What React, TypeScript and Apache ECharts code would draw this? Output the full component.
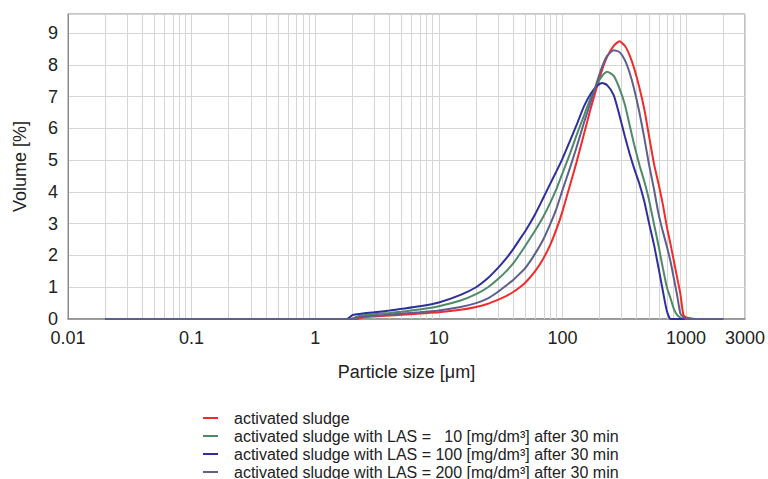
import React, { useEffect, useRef } from "react";
import * as echarts from "echarts";

// Particle sizes [µm] shared by all series
const sizes = [
  0.02, 1.8, 2, 2.2, 2.5, 3, 4, 5, 7, 10,
  15, 20, 25, 30, 35, 40, 45, 50,
  60, 70, 80, 90, 100,
  115, 130, 150, 170, 190, 210, 230, 260, 290,
  320, 350, 380, 420, 460, 500,
  550, 600, 650, 700,
  750, 800, 850, 900, 950, 1000, 1100, 1200, 2000,
];

// Volume [%]
const sludge = [
  0, 0, 0, 0, 0.06, 0.08, 0.11, 0.13, 0.17, 0.21,
  0.29, 0.38, 0.48, 0.6, 0.72, 0.85, 0.99, 1.14,
  1.5, 1.9, 2.35, 2.85, 3.38,
  4.2, 4.93, 5.85, 6.65, 7.3, 7.85, 8.25, 8.6, 8.74,
  8.6, 8.3, 7.9, 7.28, 6.6, 5.8,
  4.9, 4.25, 3.6, 2.9,
  2.35, 1.8, 1.28, 0.8, 0.15, 0.05, 0.02, 0, 0,
];
const las10 = [
  0, 0, 0.02, 0.08, 0.12, 0.15, 0.19, 0.23, 0.3, 0.4,
  0.58, 0.78, 1.0, 1.25, 1.5, 1.75, 2.03, 2.3,
  2.78, 3.22, 3.67, 4.12, 4.58,
  5.2, 5.78, 6.42, 6.98, 7.38, 7.65, 7.78, 7.65, 7.25,
  6.75, 6.1, 5.5, 4.85, 4.33, 3.78,
  3.0, 2.3, 1.6, 1.0,
  0.65, 0.3, 0.12, 0.04, 0, 0, 0, 0, 0,
];
const las100 = [
  0, 0, 0.12, 0.15, 0.18, 0.21, 0.27, 0.32, 0.4, 0.52,
  0.76, 1.0, 1.29, 1.6, 1.9, 2.2, 2.5, 2.76,
  3.29, 3.81, 4.27, 4.67, 5.04,
  5.6, 6.1, 6.71, 7.1, 7.33, 7.43, 7.36, 7.05, 6.4,
  5.75, 5.2, 4.75, 4.25, 3.7, 3.05,
  2.35, 1.6, 0.88, 0.25,
  0, 0, 0, 0, 0, 0, 0, 0, 0,
];
const las200 = [
  0, 0, 0, 0.05, 0.08, 0.1, 0.14, 0.17, 0.21, 0.27,
  0.38, 0.5, 0.65, 0.85, 1.05, 1.23, 1.42, 1.6,
  2.05, 2.5, 3.0, 3.5, 4.05,
  4.75, 5.4, 6.2, 6.85, 7.45, 7.95, 8.28, 8.46, 8.4,
  8.15, 7.75, 7.25, 6.5, 5.7, 4.9,
  4.1, 3.3, 2.75, 2.28,
  1.8, 1.25, 0.72, 0.17, 0.06, 0, 0, 0, 0,
];

const seriesNames = [
  "activated sludge",
  "activated sludge with LAS = \u00A0\u00A010 [mg/dm\u00B3] after 30 min",
  "activated sludge with LAS = 100 [mg/dm\u00B3] after 30 min",
  "activated sludge with LAS = 200 [mg/dm\u00B3] after 30 min",
];
const seriesValues = [sludge, las10, las100, las200];
const seriesColors = ["#f22a2a", "#4e8a68", "#2f2f9c", "#5f5f8e"];

const X_MIN = 0.01;
const X_MAX = 3000;
const Y_MAX = 9.6;

const FONT = "'Liberation Sans', Arial, Helvetica, sans-serif";

function minorGridValues(): number[] {
  const out: number[] = [];
  for (let e = -2; e <= 3; e++) {
    for (let k = 2; k <= 9; k++) {
      const v = k * Math.pow(10, e);
      if (v < X_MAX) out.push(v);
    }
  }
  return out;
}

export default function App() {
  const ref = useRef<HTMLDivElement>(null);
  useEffect(() => {
    document.body.style.margin = "0";
    const chart = echarts.init(ref.current!, null, { renderer: "svg" });
    const lx = (v: number) => Math.log10(v);

    const lineSeries = seriesNames.map((name, si) => ({
      name,
      type: "line",
      symbol: "none",
      smooth: 0.2,
      color: seriesColors[si],
      lineStyle: { width: 2, color: seriesColors[si] },
      z: 3,
      data: sizes.map((s, i) => [lx(s), seriesValues[si][i]]),
    }));

    const gridSeries = {
      name: "minor-grid",
      type: "line",
      symbol: "none",
      silent: true,
      lineStyle: { opacity: 0 },
      data: [[lx(X_MIN), 0]],
      z: 1,
      markLine: {
        silent: true,
        symbol: "none",
        animation: false,
        z: 1,
        label: { show: false },
        lineStyle: { color: "#d6d6d6", type: "solid", width: 1 },
        emphasis: { disabled: true },
        data: minorGridValues().map((v) => ({ xAxis: lx(v) })),
      },
    };

    chart.setOption({
      animation: false,
      backgroundColor: "#ffffff",
      grid: {
        left: 68,
        right: 23,
        top: 14,
        bottom: 160,
        show: true,
        borderColor: "#8a8a8a",
        borderWidth: 1,
      },
      xAxis: {
        type: "value",
        min: lx(X_MIN),
        max: lx(X_MAX),
        interval: 1,
        name: "Particle size [\u03BCm]",
        nameLocation: "middle",
        nameGap: 44,
        nameTextStyle: { fontSize: 18, color: "#222", fontFamily: FONT },
        axisLine: { show: true, onZero: false, lineStyle: { color: "#8a8a8a", width: 1.5 } },
        axisTick: { show: false },
        splitLine: { show: true, lineStyle: { color: "#d6d6d6", width: 1 } },
        axisLabel: {
          fontSize: 18,
          color: "#222",
          fontFamily: FONT,
          margin: 10,
          showMaxLabel: true,
          formatter: (v: number) => {
            const x = Math.pow(10, v);
            if (v < -0.5) return x.toFixed(Math.round(-v));
            return String(Math.round(x));
          },
        },
      },
      yAxis: {
        type: "value",
        min: 0,
        max: Y_MAX,
        interval: 1,
        name: "Volume [%]",
        nameLocation: "middle",
        nameGap: 39,
        nameTextStyle: { fontSize: 18, color: "#222", fontFamily: FONT },
        axisLine: { show: true, onZero: false, lineStyle: { color: "#8a8a8a", width: 1 } },
        axisTick: { show: false },
        splitLine: { show: true, lineStyle: { color: "#d6d6d6", width: 1 } },
        axisLabel: {
          fontSize: 18,
          color: "#222",
          fontFamily: FONT,
          margin: 10,
          formatter: (v: number) =>
            Math.abs(v - Math.round(v)) < 1e-6 ? String(Math.round(v)) : "",
        },
      },
      legend: {
        orient: "vertical",
        left: 203,
        top: 409,
        height: 100,
        padding: 0,
        itemWidth: 15,
        itemHeight: 2,
        itemGap: 0,
        icon: "rect",
        selectedMode: false,
        data: seriesNames,
        textStyle: {
          fontSize: 16,
          lineHeight: 18,
          color: "#222",
          fontFamily: FONT,
          padding: [0, 0, 0, 11],
        },
      },
      series: [gridSeries, ...lineSeries],
    });
    return () => chart.dispose();
  }, []);
  return <div ref={ref} style={{ width: 768, height: 479 }} />;
}
